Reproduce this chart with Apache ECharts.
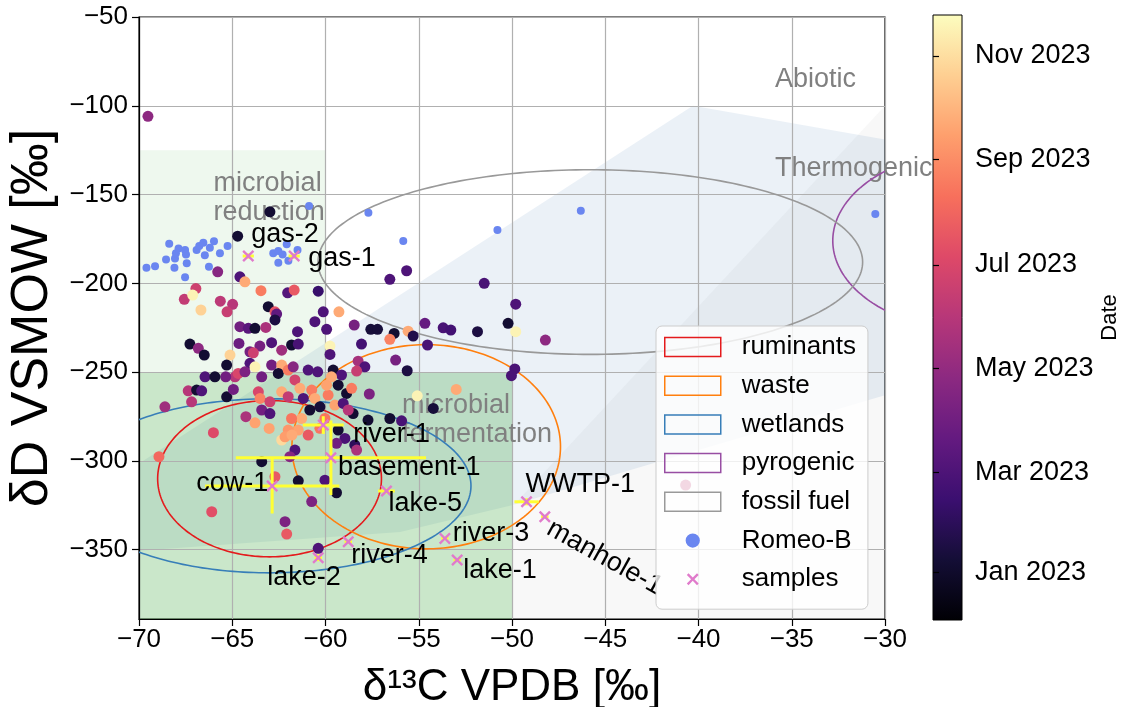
<!DOCTYPE html>
<html><head><meta charset="utf-8">
<script src="https://cdn.jsdelivr.net/npm/echarts@6/dist/echarts.min.js"></script>
<style>html,body{margin:0;padding:0;background:#fff}#c{width:1126px;height:707px}</style>
</head><body><div id="c"></div>
<script>
// ---------- data ----------
const xMin = -70, xMax = -30, xStep = 5;
const yMin = -389, yMax = -50;

// colour-coded (date) measurements: d13C, dD, day of 2023 (0 = 1 Jan 2023)
const dateD13C = [-69.52,-62.98,-64.71,-65.78,-64.59,-64.32,-63.46,-66.95,-67.57,-67.12,
 -66.68,-65.64,-64.98,-65.28,-62.03,-61.68,-60.39,-63.07,-62.71,-62.62,
 -62.71,-60.12,-59.28,-60.57,-58.46,-64.59,-64.14,-63.78,-63.20,-61.50,
 -59.94,-57.57,-57.21,-56.32,-55.57,-55.65,-56.55,-51.49,-49.80,-50.21,
 -49.80,-48.21,-54.67,-53.69,-53.28,-51.85,-55.30,-56.55,-58.07,-54.53,
 -59.76,-59.76,-56.24,-58.25,-57.89,-58.33,-55.62,-49.85,-50.03,-52.99,
 -55.08,-54.22,-57.65,-67.27,-66.82,-66.50,-65.12,-64.64,-64.05,-66.46,
 -67.36,-66.91,-66.64,-65.30,-65.30,-64.94,-64.85,-65.35,-64.68,-64.05,
 -63.78,-63.42,-62.89,-62.35,-62.53,-62.00,-61.73,-60.93,-59.59,-59.14,
 -56.55,-55.92,-63.60,-63.51,-62.98,-63.42,-62.35,-61.64,-61.37,-61.19,
 -60.74,-60.84,-60.57,-60.30,-61.28,-61.82,-61.46,-60.93,-62.00,-62.35,
 -59.50,-59.86,-59.32,-58.87,-59.05,-58.60,-59.68,-59.32,-58.96,-59.41,
 -58.52,-57.72,-58.43,-58.33,-60.03,-61.64,-61.91,-63.42,-62.71,-61.46,
 -60.03,-59.41,-60.74,-62.17,-62.08,-66.10,-66.01,-68.93,-68.61,-67.18,
 -60.39,-40.69,-64.27,-63.78,-63.02,-63.52,-62.89,-62.35,-61.82,-61.46,
 -63.87,-65.93,-64.32,-60.42,-59.94,-58.78,-60.30,-62.17,-62.00,-62.98,-61.80];
const dateDD = [-105.9,-159.7,-173.4,-193.5,-196.3,-199.1,-204.1,-202.9,-209.0,-206.6,
 -215.0,-210.0,-211.8,-216.0,-205.3,-203.8,-204.4,-213.1,-216.0,-217.3,
 -220.6,-216.0,-216.0,-221.6,-223.5,-224.4,-225.3,-225.3,-224.8,-227.2,
 -225.9,-225.9,-225.9,-228.2,-226.9,-192.9,-197.7,-200.0,-211.7,-222.5,
 -227.2,-231.9,-222.5,-225.0,-226.3,-227.2,-229.7,-231.5,-234.2,-234.7,
 -235.3,-240.0,-243.2,-243.8,-247.0,-249.4,-249.2,-248.2,-252.0,-259.7,
 -263.3,-270.4,-262.3,-234.2,-236.6,-240.4,-240.4,-233.8,-238.5,-252.6,
 -260.5,-260.1,-260.5,-246.0,-263.9,-259.7,-252.6,-252.6,-250.7,-245.0,
 -247.0,-252.6,-246.0,-246.0,-250.7,-248.8,-247.0,-248.8,-248.8,-251.6,
 -276.1,-277.4,-261.1,-264.8,-266.7,-271.3,-261.1,-254.4,-259.1,-264.8,
 -260.1,-271.3,-264.8,-269.5,-276.1,-276.1,-282.6,-285.4,-282.6,-288.2,
 -268.5,-262.9,-257.3,-262.0,-267.6,-259.1,-252.6,-282.6,-287.3,-290.1,
 -273.3,-277.0,-291.0,-293.9,-276.1,-293.9,-297.6,-300.4,-308.9,-311.2,
 -310.8,-317.9,-322.9,-334.2,-341.2,-328.6,-284.1,-297.6,-269.5,-266.7,
 -349.2,-313.6,-275.1,-278.5,-281.7,-235.3,-233.4,-237.6,-234.7,-234.2,
 -239.1,-252.6,-249.8,-249.8,-257.3,-271.3,-281.6,-286.4,-263.8,-273.3,-285.4];
const dateDay = [115,5,5,110,60,265,230,170,160,320,
 295,155,150,165,65,200,40,5,195,75,
 15,60,265,60,95,90,70,5,140,60,
 60,10,10,5,265,60,60,55,60,5,
 320,115,80,55,50,15,20,235,50,55,
 320,60,95,135,60,165,15,55,55,265,
 320,10,100,5,115,5,295,85,95,60,
 150,5,60,5,5,90,150,90,180,60,
 320,90,90,265,5,230,110,60,5,60,
 5,55,180,235,170,90,265,175,265,60,
 230,5,265,10,265,225,260,200,250,300,
 260,230,5,5,60,230,265,5,55,90,
 5,5,30,140,225,60,110,5,200,5,
 60,5,100,100,200,190,185,215,130,150,
 60,160,140,260,260,95,60,130,5,55,
 170,5,100,60,260,150,225,255,160,60,265];

// Romeo-B
const romeoD13C = [-69.60,-69.14,-68.55,-68.38,-68.07,-68.02,-68.10,-67.88,-67.53,-67.48,-67.44,-67.53,-66.91,-66.77,-66.55,-66.47,-66.20,-65.98,-66.25,-65.66,-65.25,-62.80,-62.53,-62.30,-62.53,-62.08,-61.99,-61.50,-60.88,-57.70,-55.83,-50.78,-46.31,-30.52];
const romeoDD = [-191.2,-190.3,-186.5,-177.7,-186.0,-183.1,-191.2,-180.3,-181.2,-183.7,-188.7,-196.5,-181.2,-179.0,-177.1,-184.1,-180.0,-176.3,-190.6,-183.1,-179.0,-183.1,-181.8,-183.7,-188.4,-178.0,-187.3,-181.2,-156.4,-160.2,-176.2,-170.0,-159.1,-161.0];

// samples with uncertainties
const sampleNames = ['gas-2','gas-1','cow-1','basement-1','river-1','lake-5','river-4','lake-2','river-3','lake-1','WWTP-1','manhole-1'];
const sampleD13C = [-64.14,-61.68,-62.86,-59.71,-60.12,-56.73,-58.78,-60.39,-53.60,-52.94,-49.22,-48.24];
const sampleDD = [-184.6,-184.6,-314.1,-298.2,-279.8,-316.9,-345.5,-354.5,-343.6,-355.8,-323.0,-331.4];
const sampleD13CErr = [0.3,0.3,3.6,5.1,1.1,0.45,0.2,0.2,0.2,0.2,0.65,0.2];
const sampleDDErr = [1.5,1.5,15.5,21,5,1.5,1,2,1,1,2,1];

// source signature ellipses
const ellipseNames = ['ruminants','waste','wetlands','pyrogenic','fossil fuel'];
const ellipseCx = [-63.0,-54.6,-63.0,-25.0,-45.8];
const ellipseCy = [-310,-292,-314,-176,-188];
const ellipseRx = [6.0,7.2,10.8,7.8,14.6];
const ellipseRy = [44,57.5,49,51,52];

// genetic fields (d13C, dD vertices)
const reductionField = [[-72,-125],[-60,-125],[-60,-250],[-72,-250]];
const fermentationField = [[-72,-250],[-50,-250],[-50,-400],[-72,-400]];
const thermogenicField = [[-72,-315],[-40.3,-100],[-20,-137.5],[-20,-232],[-30,-263],[-42.2,-300.6],[-50,-325],[-56,-340],[-72,-352]];
const abioticField = [[-30,-100],[-20,-100],[-20,-400],[-50,-400],[-50,-326]];

// field annotations
const annoText = ['Abiotic','Thermogenic','microbial','reduction','microbial','fermentation'];
const annoX = [-35.9,-35.9,-66.0,-66.0,-55.9,-55.9];
const annoY = [-84.4,-135.0,-143.5,-159.3,-268.5,-284.8];

// colorbar
const cbMin = -28, cbMax = 328;
const cbTickDays = [0,59,120,181,243,304];
const cbTickLabels = ['Jan 2023','Mar 2023','May 2023','Jul 2023','Sep 2023','Nov 2023'];

// ---------- styles ----------
const FONT = '"Liberation Sans", Arial, Helvetica, sans-serif';
const magma = ['#000004','#140e36','#3b0f70','#641a80','#8c2981','#b73779','#de4968','#f7705c','#fe9f6d','#fecf92','#fcfdbf'];
const ellipseColors = ['#e41a1c','#ff7f0e','#377eb8','#984ea3','#999999'];
const labelDx = [3,14,-4,7,30,2,3,-51,8,6,-1,4];
const labelDy = [-21,3,-2,10,9,13,14,20,-5,11,-17,10];
const labelRot = [0,0,0,0,0,0,0,0,0,0,0,-29];
const labelAlign = ['left','left','right','left','left','left','left','left','left','left','left','left'];
const xPath = 'path://M0,1.4L1.4,0L5,3.6L8.6,0L10,1.4L6.4,5L10,8.6L8.6,10L5,6.4L1.4,10L0,8.6L3.6,5Z';
const xIcon = 'path://M-3,-3h0.01v0.01h-0.01zM13,13h-0.01v-0.01h0.01zM0,1.4L1.4,0L5,3.6L8.6,0L10,1.4L6.4,5L10,8.6L8.6,10L5,6.4L1.4,10L0,8.6L3.6,5Z';
const dotIcon = 'path://M0,0h0.01v0.01h-0.01zM20,20h-0.01v-0.01h0.01zM10,2.5A7.5,7.5 0 1 0 10.001,2.5Z';
const minus = v => String(v).replace('-', '\u2212');

// ---------- series ----------
const series = [];
function fieldSeries(poly, color) {
  return {type:'custom', xAxisIndex:0, yAxisIndex:0, clip:true, silent:true, z:1,
    data:[poly[0]],
    renderItem:(p, api) => ({type:'polygon', shape:{points: poly.map(v => api.coord(v))}, style:{fill:color, stroke:'none'}})};
}
series.push(fieldSeries(reductionField, 'rgba(44,160,44,0.08)'));
series.push(fieldSeries(abioticField, 'rgba(128,128,128,0.06)'));
series.push(fieldSeries(thermogenicField, 'rgba(70,130,180,0.11)'));
series.push(fieldSeries(fermentationField, 'rgba(44,160,44,0.25)'));

// annotations
series.push({type:'custom', xAxisIndex:0, yAxisIndex:0, silent:true, z:3,
  data: annoX.map((x,i)=>[x, annoY[i]]),
  renderItem:(p, api) => {
    const c = api.coord([api.value(0), api.value(1)]);
    return {type:'text', x:c[0], y:c[1]+1, style:{text:annoText[p.dataIndex], x:0, y:0, fill:'#808080', fontSize:27, fontFamily:FONT, align:'left', verticalAlign:'middle'}};
  }});

// ellipses
ellipseNames.forEach((n, k) => {
  series.push({type:'custom', name:n, xAxisIndex:0, yAxisIndex:0, clip:true, silent:true, z:3,
    itemStyle:{color:ellipseColors[k]},
    data:[[ellipseCx[k], ellipseCy[k], ellipseRx[k], ellipseRy[k]]],
    renderItem:(p, api) => {
      const cx = api.value(0), cy = api.value(1), rx = api.value(2), ry = api.value(3);
      const pts = [];
      for (let i = 0; i < 240; i++) { const t = i / 240 * 2 * Math.PI; pts.push(api.coord([cx + rx*Math.cos(t), cy + ry*Math.sin(t)])); }
      return {type:'polygon', shape:{points:pts}, style:{fill:'none', stroke:ellipseColors[k], lineWidth:1.6}};
    }});
});

// date scatter
const dateSeriesIndex = series.length;
series.push({type:'scatter', xAxisIndex:0, yAxisIndex:0, z:4, silent:true, symbolSize:11,
  itemStyle:{opacity:1},
  data: dateD13C.map((x,i)=>[x, dateDD[i], dateDay[i]])});

// Romeo-B
series.push({type:'scatter', name:'Romeo-B', xAxisIndex:0, yAxisIndex:0, z:5, silent:true, symbolSize:8,
  itemStyle:{color:'#6a86f0', opacity:1}, data: romeoD13C.map((x,i)=>[x, romeoDD[i]])});

// error bars
series.push({type:'custom', xAxisIndex:0, yAxisIndex:0, z:6, silent:true,
  data: sampleD13C.map((x,i)=>[x, sampleDD[i], sampleD13CErr[i], sampleDDErr[i]]),
  renderItem:(p, api) => {
    const x = api.value(0), y = api.value(1), ex = api.value(2), ey = api.value(3);
    const a = api.coord([x-ex, y]), b = api.coord([x+ex, y]), c = api.coord([x, y+ey]), d = api.coord([x, y-ey]);
    const st = {stroke:'#ffff33', lineWidth:3};
    return {type:'group', children:[
      {type:'line', shape:{x1:a[0], y1:a[1], x2:b[0], y2:b[1]}, style:st},
      {type:'line', shape:{x1:c[0], y1:c[1], x2:d[0], y2:d[1]}, style:st}]};
  }});

// samples
series.push({type:'scatter', name:'samples', xAxisIndex:0, yAxisIndex:0, z:7, silent:true,
  symbol:xPath, symbolSize:12, itemStyle:{color:'#e07bcb', opacity:1},
  data: sampleD13C.map((x,i)=>[x, sampleDD[i]])});

// sample labels
series.push({type:'custom', xAxisIndex:0, yAxisIndex:0, z:8, silent:true,
  data: sampleD13C.map((x,i)=>[x, sampleDD[i]]),
  renderItem:(p, api) => {
    const i = p.dataIndex;
    const c = api.coord([api.value(0), api.value(1)]);
    return {type:'text', x:c[0]+labelDx[i], y:c[1]+labelDy[i], rotation:labelRot[i]*Math.PI/180,
      style:{text:sampleNames[i], x:0, y:0, fill:'#000', fontSize:27, fontFamily:FONT, align:labelAlign[i], verticalAlign:'middle'}};
  }});

// colorbar
series.push({type:'custom', xAxisIndex:1, yAxisIndex:1, z:2, silent:true,
  data:[[0, cbMin]],
  renderItem:(p, api) => {
    const p0 = api.coord([0, cbMin]), p1 = api.coord([1, cbMax]);
    return {type:'rect', shape:{x:p0[0], y:p1[1], width:p1[0]-p0[0], height:p0[1]-p1[1]},
      style:{fill:new echarts.graphic.LinearGradient(0,1,0,0, magma.map((c,i)=>({offset:i/(magma.length-1), color:c}))), stroke:'#000', lineWidth:1}};
  }});

const axisCommon = {
  z:2,
  axisLine:{show:true, onZero:false, lineStyle:{color:'#000', width:1.2}},
  axisTick:{show:true, length:7, lineStyle:{color:'#000', width:1.2}},
  splitLine:{show:true, lineStyle:{color:'#b0b0b0', width:1.2}},
  nameLocation:'middle'
};

const option = {
  animation:false,
  backgroundColor:'#fff',
  grid:[
    {left:139, right:241, top:17, bottom:88, show:true, borderColor:'#000', borderWidth:1.2, backgroundColor:'transparent', outerBoundsMode:'none', containLabel:false},
    {left:933, width:29, top:15, bottom:87, show:false, outerBoundsMode:'none', containLabel:false}
  ],
  xAxis:[
    Object.assign({}, axisCommon, {type:'value', gridIndex:0, min:xMin, max:xMax, interval:xStep,
      axisLabel:{fontSize:26, color:'#000', fontFamily:FONT, margin:8, formatter:minus},
      name:'\u03b4\u00b9\u00b3C VPDB [\u2030]', nameGap:47,
      nameTextStyle:{fontSize:44, color:'#000', fontFamily:FONT}}),
    {type:'value', gridIndex:1, min:0, max:1, show:false}
  ],
  yAxis:[
    Object.assign({}, axisCommon, {type:'value', gridIndex:0, min:yMin, max:yMax, splitNumber:7,
      axisLabel:{fontSize:26, color:'#000', fontFamily:FONT, margin:11, formatter:minus, showMinLabel:false},
      name:'\u03b4D VSMOW [\u2030]', nameGap:64, nameRotate:90,
      nameTextStyle:{fontSize:52, color:'#000', fontFamily:FONT}}),
    {type:'value', gridIndex:1, min:cbMin, max:cbMax, position:'right', z:3,
      axisLine:{show:false},
      axisTick:{show:true, inside:false, length:6, customValues:cbTickDays, lineStyle:{color:'#000', width:1.2}},
      axisLabel:{show:true, customValues:cbTickDays, fontSize:27, color:'#000', fontFamily:FONT, margin:13,
        formatter:v => { const k = cbTickDays.indexOf(v); return k >= 0 ? cbTickLabels[k] : ''; }},
      splitLine:{show:false},
      name:'Date', nameLocation:'middle', nameRotate:90, nameGap:137,
      nameTextStyle:{fontSize:22, color:'#000', fontFamily:FONT}}
  ],
  visualMap:[{type:'continuous', show:false, min:cbMin, max:cbMax, dimension:2, seriesIndex:dateSeriesIndex,
    inRange:{color:magma}}],
  legend:{
    orient:'vertical', left:656, top:326, z:20, selectedMode:false,
    itemWidth:56, itemHeight:19, itemGap:12.7,
    padding:[8,12,17,8],
    backgroundColor:'rgba(255,255,255,0.8)', borderColor:'#cccccc', borderWidth:1, borderRadius:6,
    textStyle:{fontSize:26, lineHeight:26, color:'#000', fontFamily:FONT, padding:[0,0,0,16]},
    data:[
      {name:'ruminants', icon:'rect', itemStyle:{color:'rgba(0,0,0,0)', borderColor:ellipseColors[0], borderWidth:1.5}},
      {name:'waste', icon:'rect', itemStyle:{color:'rgba(0,0,0,0)', borderColor:ellipseColors[1], borderWidth:1.5}},
      {name:'wetlands', icon:'rect', itemStyle:{color:'rgba(0,0,0,0)', borderColor:ellipseColors[2], borderWidth:1.5}},
      {name:'pyrogenic', icon:'rect', itemStyle:{color:'rgba(0,0,0,0)', borderColor:ellipseColors[3], borderWidth:1.5}},
      {name:'fossil fuel', icon:'rect', itemStyle:{color:'rgba(0,0,0,0)', borderColor:ellipseColors[4], borderWidth:1.5}},
      {name:'Romeo-B', icon:dotIcon, itemStyle:{color:'#6a86f0'}},
      {name:'samples', icon:xIcon, itemStyle:{color:'#e07bcb', borderWidth:0}}
    ]
  },
  series: series
};

const chart = echarts.init(document.getElementById('c'));
chart.setOption(option);
</script>
</body></html>
